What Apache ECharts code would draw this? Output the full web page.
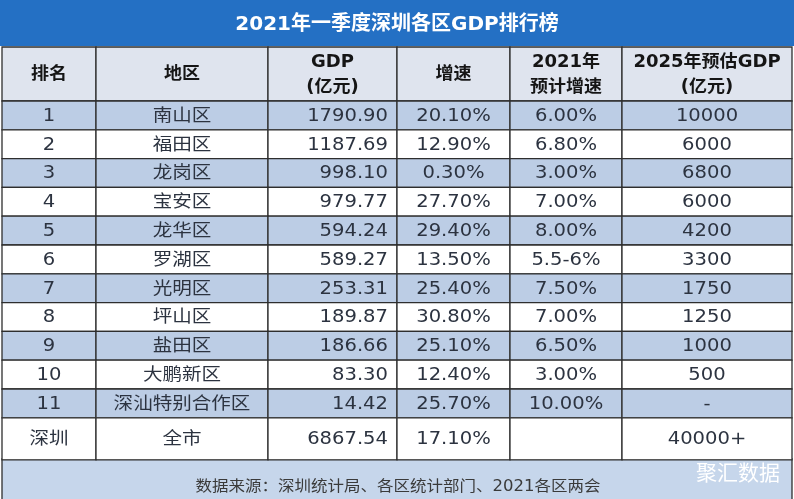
<!DOCTYPE html>
<html><head><meta charset="utf-8">
<script src="https://cdn.jsdelivr.net/npm/echarts@6/dist/echarts.min.js"></script>
<style>html,body{margin:0;padding:0;background:#fff}#c{width:794px;height:499px}</style>
</head><body><div id="c"></div>
<script>
// ---- data ----
const titleText = '2021年一季度深圳各区GDP排行榜';
const headers = ['排名', '地区', 'GDP\n(亿元)', '增速', '2021年\n预计增速', '2025年预估GDP\n(亿元)'];
const ranks = ['1', '2', '3', '4', '5', '6', '7', '8', '9', '10', '11'];
const districts = ['南山区', '福田区', '龙岗区', '宝安区', '龙华区', '罗湖区', '光明区', '坪山区', '盐田区', '大鹏新区', '深汕特别合作区'];
const gdp = [1790.90, 1187.69, 998.10, 979.77, 594.24, 589.27, 253.31, 189.87, 186.66, 83.30, 14.42];
const growth = [20.10, 12.90, 0.30, 27.70, 29.40, 13.50, 25.40, 30.80, 25.10, 12.40, 25.70];
const growth2021 = ['6.00%', '6.80%', '3.00%', '7.00%', '8.00%', '5.5-6%', '7.50%', '7.00%', '6.50%', '3.00%', '10.00%'];
const gdp2025 = ['10000', '6000', '6800', '6000', '4200', '3300', '1750', '1250', '1000', '500', '-'];
const totalLabel = ['深圳', '全市'];
const totalGdp = 6867.54;
const totalGrowth = 17.10;
const totalGrowth2021 = '';
const totalGdp2025 = '40000+';
const sourceText = '数据来源：深圳统计局、各区统计部门、2021各区两会';
const brandText = '聚汇数据';

// ---- layout ----
const colW = [94, 172, 129, 113, 112, 170];
const colAlign = ['center', 'center', 'right', 'center', 'center', 'center'];
const rowH = [54].concat(new Array(11).fill(28.8)).concat([42]);
const colX = [0]; colW.forEach(w => colX.push(colX[colX.length - 1] + w));
const rowY = [0]; rowH.forEach(h => rowY.push(rowY[rowY.length - 1] + h));
const totalW = colX[colX.length - 1], totalH = rowY[rowY.length - 1];
const gridTop = 47, gridLeft = 2;

// ---- build cells ----
const rows = [headers];
for (let i = 0; i < ranks.length; i++) {
  rows.push([ranks[i], districts[i], gdp[i].toFixed(2), growth[i].toFixed(2) + '%', growth2021[i], gdp2025[i]]);
}
rows.push([totalLabel[0], totalLabel[1], totalGdp.toFixed(2), totalGrowth.toFixed(2) + '%', totalGrowth2021, totalGdp2025]);

const cells = [];
const seriesData = [];
rows.forEach((row, r) => {
  row.forEach((txt, c) => {
    cells.push({ text: txt, r: r, c: c });
    seriesData.push([(colX[c] + colX[c + 1]) / 2, (rowY[r] + rowY[r + 1]) / 2, c, r]);
  });
});

const FONT = '"DejaVu Sans","Noto Sans CJK SC",sans-serif';

function renderItem(params, api) {
  const c = api.value(2), r = api.value(3);
  const cell = cells[params.dataIndex];
  const p0 = api.coord([colX[c], rowY[r]]);
  const p1 = api.coord([colX[c + 1], rowY[r + 1]]);
  const left = Math.min(p0[0], p1[0]), top = Math.min(p0[1], p1[1]);
  const w = Math.abs(p1[0] - p0[0]), h = Math.abs(p1[1] - p0[1]);
  let fill;
  if (r === 0) fill = '#dfe4ee';
  else if (r === rows.length - 1) fill = '#ffffff';
  else fill = (r % 2 === 1) ? '#bccde5' : '#ffffff';
  const isHeader = r === 0;
  const align = isHeader ? 'center' : colAlign[c];
  const tx = align === 'right' ? left + w - 9 : left + w / 2;
  return {
    type: 'group',
    children: [
      { type: 'rect', shape: { x: left, y: top, width: w, height: h },
        style: { fill: fill, stroke: '#2e2e2e', lineWidth: 1.3 } },
      { type: 'text', x: tx, y: top + h / 2 + 1, scaleX: isHeader ? 1.06 : 1.15,
        style: { text: cell.text, fill: isHeader ? '#151515' : '#2c3340',
          font: (isHeader ? 'bold 17px ' : '17px ') + FONT,
          align: align, verticalAlign: 'middle', lineHeight: 25 } }
    ]
  };
}

const chart = echarts.init(document.getElementById('c'));
chart.setOption({
  animation: false,
  title: {
    text: titleText, left: 'center', top: 10,
    textStyle: { color: '#ffffff', fontSize: 20, fontWeight: 'bold', fontFamily: FONT }
  },
  graphic: [
    { type: 'rect', z: -10, shape: { x: 0, y: 0, width: 794, height: 46 }, style: { fill: '#2470c4' } },
    { type: 'rect', z: -10, shape: { x: 2, y: 459, width: 790, height: 42 },
      style: { fill: '#c6d6eb', stroke: '#2e2e2e', lineWidth: 1.3 } },
    { type: 'text', x: 398, y: 487, scaleX: 1.1, z: 10,
      style: { text: sourceText, fill: '#3a3a3a', font: '15px ' + FONT, align: 'center', verticalAlign: 'middle' } },
    { type: 'text', x: 738, y: 472, z: 10,
      style: { text: brandText, fill: '#ffffff', font: '21px "Noto Sans CJK SC",sans-serif', align: 'center', verticalAlign: 'middle',
        shadowColor: 'rgba(0,0,0,0.25)', shadowBlur: 2 } }
  ],
  grid: { left: gridLeft, top: gridTop, width: totalW, height: totalH, containLabel: false },
  xAxis: { type: 'value', min: 0, max: totalW, show: false },
  yAxis: { type: 'value', min: 0, max: totalH, inverse: true, show: false },
  series: [{
    type: 'custom',
    renderItem: renderItem,
    encode: { x: 0, y: 1 },
    data: seriesData
  }]
});
</script>
</body></html>
